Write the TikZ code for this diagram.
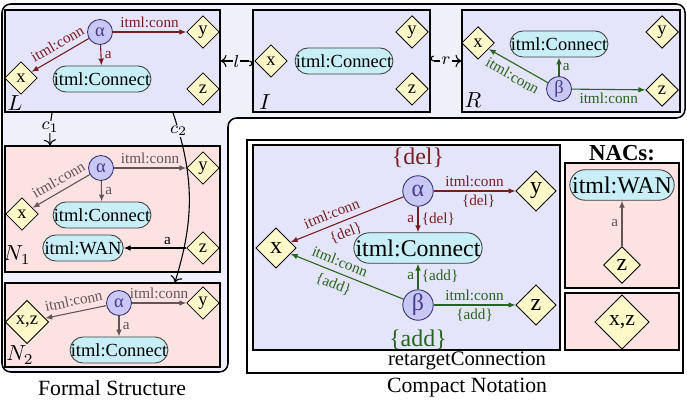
\documentclass[tikz,border=0pt]{standalone}
\usepackage{fontspec}
\setmainfont{Liberation Serif}
\usetikzlibrary{positioning, arrows.meta, calc, fit, shapes.geometric}

\definecolor{framefill}{RGB}{240,240,251}
\definecolor{lhsfill}{RGB}{228,228,250}
\definecolor{nacfill}{RGB}{253,226,226}
\definecolor{typefill}{RGB}{200,238,248}
\definecolor{varfill}{RGB}{255,248,200}
\definecolor{edgefill}{RGB}{200,200,245}
\definecolor{edgetext}{RGB}{70,60,140}
\definecolor{delcol}{RGB}{120,30,35}
\definecolor{addcol}{RGB}{40,100,30}
\definecolor{naccol}{RGB}{100,85,85}

\newcommand{\fslbl}{\fontsize{7pt}{8pt}\selectfont}
\newcommand{\fsnode}{\fontsize{8.5pt}{10pt}\selectfont}
\newcommand{\fsbig}{\fontsize{11pt}{13pt}\selectfont}

\begin{document}
\begin{tikzpicture}[
    x=0.46pt, y=-0.46pt,
    >={Latex[length=3.2pt,width=2.6pt]},
    graphbox/.style={draw, inner sep=0pt, line width=0.6pt},
    lhs/.style={graphbox, fill=lhsfill},
    nac/.style={graphbox, fill=nacfill},
    var/.style={diamond, draw, fill=varfill, inner sep=0pt, minimum size=15pt, font=\fsnode},
    bigvar/.style={var, minimum size=18.5pt, font=\fsbig},
    edgenode/.style={circle, draw=edgetext!80!black, fill=edgefill, text=edgetext, inner sep=0pt, minimum size=11.5pt, font=\fsnode},
    bigedge/.style={edgenode, minimum size=14pt, font=\fsbig},
    typenode/.style={draw=black!75, fill=typefill, rounded corners=6pt, inner sep=0pt, minimum width=45pt, minimum height=12pt, font=\fsnode},
    bigtype/.style={typenode, rounded corners=7pt, minimum width=59pt, minimum height=14pt, font=\fsbig},
    lbl/.style={font=\fslbl, inner sep=1.5pt},
    slbl/.style={lbl, sloped, inner sep=2.5pt},
    delarrow/.style={->, delcol, text=delcol, line width=0.5pt},
    addarrow/.style={->, addcol, text=addcol, line width=0.5pt},
    nacarrow/.style={->, naccol, text=naccol, line width=0.5pt},
    morph/.style={{Hooks[right]}-{To}, line width=0.5pt}
]
\useasboundingbox (0,0) rectangle (687,402);

% Formal structure frame
\draw[line width=0.7pt, rounded corners=4pt, fill=framefill] (2,4) -- (685,4) -- (685,118) -- (228,118) -- (228,372) -- (2,372) -- cycle;

\node[lhs, fit={(5,10) (220,112)}] (Lbox) {};
\node[lhs, fit={(253,10) (430,112)}] (Ibox) {};
\node[lhs, fit={(462,10) (680,112)}] (Rbox) {};
\node[nac, fit={(5,146) (220,272)}] (Nonebox) {};
\node[nac, fit={(5,283) (220,367)}] (Ntwobox) {};

% L
\node[edgenode] (La) at (100,32) {α};
\node[var] (Ly) at (203,32) {y};
\node[var] (Lx) at (21,78) {x};
\node[var] (Lz) at (203,89) {z};
\node[typenode] (Lc) at (102,79) {itml:Connect};
\node (Lname) at (15,103) {$L$};
\draw[delarrow] (La) -- (Ly) node[lbl, midway, above] {itml:conn};
\draw[delarrow] (La) -- (Lx) node[slbl, pos=0.45, above] {itml:conn};
\draw[delarrow] (La) -- (Lc) node[lbl, midway, right] {a};

% I
\node[var] (Ix) at (271,61) {x};
\node[typenode] (Ic) at (344,61) {itml:Connect};
\node[var] (Iy) at (412,32) {y};
\node[var] (Iz) at (412,89) {z};
\node (Iname) at (265,102) {$I$};

% R
\node[edgenode] (Rb) at (559,89) {β};
\node[var] (Rx) at (478,43) {x};
\node[var] (Ry) at (662,32) {y};
\node[var] (Rz) at (662,90) {z};
\node[typenode] (Rc) at (559,44) {itml:Connect};
\node (Rname) at (473,100) {$R$};
\draw[addarrow] (Rb) -- (Rx) node[slbl, midway, below] {itml:conn};
\draw[addarrow] (Rb) -- (Rz) node[lbl, midway, below] {itml:conn};
\draw[addarrow] (Rb) -- (Rc) node[lbl, midway, right] {a};

% N1
\node[edgenode] (Na) at (101,168) {α};
\node[var] (Ny) at (203,168) {y};
\node[var] (Nx) at (22,214) {x};
\node[typenode] (Nc) at (102,215) {itml:Connect};
\node[typenode, minimum width=37pt] (Nw) at (83,248) {itml:WAN};
\node[var] (Nz) at (203,248) {z};
\node (Nonename) at (17,255) {$N_1$};
\draw[nacarrow] (Na) -- (Ny) node[lbl, midway, above] {itml:conn};
\draw[nacarrow] (Na) -- (Nx) node[slbl, pos=0.45, above] {itml:conn};
\draw[nacarrow] (Na) -- (Nc) node[lbl, midway, right] {a};
\draw[->, line width=0.5pt] (Nz) -- (Nw) node[lbl, pos=0.3, above] {a};

% N2
\node[edgenode] (Ma) at (119,303) {α};
\node[var] (My) at (203,303) {y};
\node[var, minimum size=20pt] (Mxz) at (27,322) {x,z};
\node[typenode] (Mc) at (119,350) {itml:Connect};
\node (Ntwoname) at (20,355) {$N_2$};
\draw[nacarrow] (Ma) -- (My) node[lbl, midway, above] {itml:conn};
\draw[nacarrow] (Ma) -- (Mxz) node[slbl, midway, above] {itml:conn};
\draw[nacarrow] (Ma) -- (Mc) node[lbl, midway, right] {a};

% morphisms
\draw[morph] (Ibox) -- (Lbox) node[midway, fill=framefill, inner sep=0.5pt, font=\fsnode] {$l$};
\draw[morph] (Ibox) -- (Rbox) node[midway, fill=framefill, inner sep=0.5pt, font=\fsnode] {$r$};
\draw[-{To}, line width=0.5pt] ([xshift=-27.8pt]Lbox.south) to[bend right=6] node[pos=0.45, fill=framefill, inner sep=0.5pt, font=\fsnode] {$c_1$} ([xshift=-28.7pt]Nonebox.north);
\draw[-{To}, line width=0.5pt] ([xshift=27.8pt]Lbox.south) to[bend left=18] node[pos=0.1, fill=framefill, inner sep=0.5pt, font=\fsnode] {$c_2$} ([xshift=28.7pt]Ntwobox.north);

% Compact notation
\node[draw, line width=0.7pt, inner sep=0pt, fit={(247,140) (683,373)}] (Cframe) {};
\node[lhs, fit={(253,145) (560,350)}] (Cbox) {};
\node[nac, fit={(565,163) (679,288)}] (NacA) {};
\node[nac, fit={(565,293) (679,350)}] (NacB) {};

\node[bigedge] (Ca) at (418,191) {α};
\node[bigedge] (Cb) at (418,305) {β};
\node[bigvar] (Cx) at (276,248) {x};
\node[bigvar] (Cy) at (536,191) {y};
\node[bigvar] (Cz) at (536,305) {z};
\node[bigtype] (Cc) at (418,248) {itml:Connect};
\node[font=\fsbig, text=delcol] (Cdel) at (418,158) {\{del\}};
\node[font=\fsbig, text=addcol] (Cadd) at (418,340) {\{add\}};

\draw[delarrow] (Ca) -- (Cy) node[lbl, midway, above] {itml:conn} node[lbl, pos=0.55, below] {\{del\}};
\draw[delarrow] (Ca) -- (Cx) node[slbl, pos=0.6, above] {itml:conn} node[slbl, pos=0.55, below] {\{del\}};
\draw[delarrow] (Ca) -- (Cc) node[lbl, midway, left] {a} node[lbl, midway, right] {\{del\}};
\draw[addarrow] (Cb) -- (Cc) node[lbl, midway, left] {a} node[lbl, midway, right] {\{add\}};
\draw[addarrow] (Cb) -- (Cx) node[slbl, pos=0.6, above] {itml:conn} node[slbl, pos=0.58, below] {\{add\}};
\draw[addarrow] (Cb) -- (Cz) node[lbl, midway, above] {itml:conn} node[lbl, midway, below] {\{add\}};

% NACs
\node[font=\fontsize{10.5pt}{12pt}\selectfont\bfseries] (Nacs) at (622,153) {NACs:};
\node[bigtype, minimum width=48pt] (NacW) at (622,185) {itml:WAN};
\node[bigvar, minimum size=17pt] (NacZ) at (622,265) {z};
\draw[nacarrow] (NacZ) -- (NacW) node[lbl, midway, left] {a};
\node[bigvar, minimum size=25pt, font=\fontsize{10pt}{12pt}\selectfont] (NacXZ) at (622,322) {x,z};

% captions
\node[font=\fontsize{9.5pt}{11pt}\selectfont] (rule) at (467,361) {retargetConnection};
\node[font=\fontsize{10pt}{12pt}\selectfont] (formal) at (112,388) {Formal Structure};
\node[font=\fontsize{10pt}{12pt}\selectfont] (compact) at (467,388) {Compact Notation};

\end{tikzpicture}
\end{document}
